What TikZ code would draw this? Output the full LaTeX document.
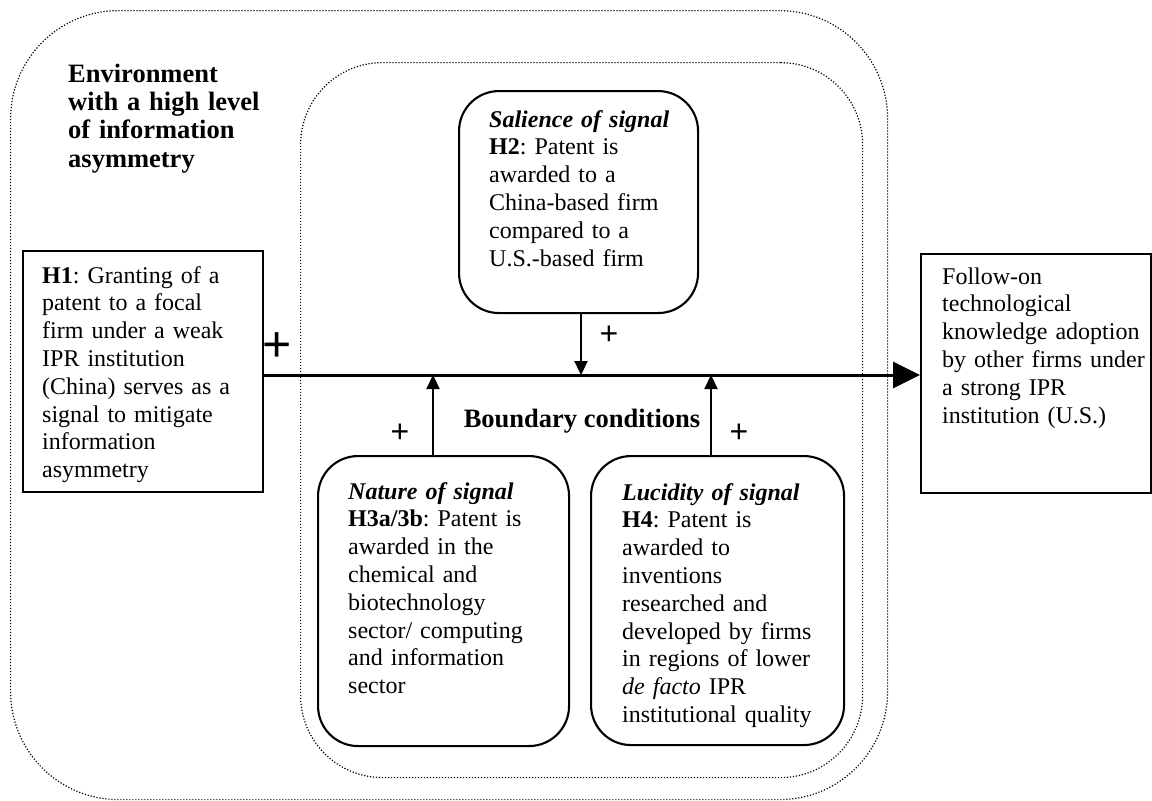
\documentclass[tikz,border=0pt]{standalone}
\usepackage{fontspec}
\setmainfont{Liberation Serif}
\newfontfamily\plusfont{Liberation Sans}
\usetikzlibrary{arrows.meta}
\frenchspacing
\begin{document}
\begin{tikzpicture}[x=1pt,y=-1pt,
  dotbox/.style={draw, line width=1.2pt, dash pattern=on 1.2pt off 1.8pt, rounded corners=#1, inner sep=0pt, anchor=north west},
  sqbox/.style={draw, line width=2.3pt, inner sep=0pt, anchor=north west, fill=white},
  rbox/.style={draw, line width=2.1pt, rounded corners=40pt, inner sep=0pt, anchor=north west, fill=white},
  txt/.style={anchor=base west, inner sep=0pt, align=left, text width=330pt, font=\fontsize{24}{27.8}\selectfont},
  ttl/.style={anchor=base west, inner sep=0pt, align=left, text width=330pt, font=\fontsize{26.5}{28.4}\selectfont\bfseries},
  plus/.style={inner sep=0pt, font=\plusfont\fontsize{32}{32}\selectfont},
  bigplus/.style={inner sep=0pt, font=\plusfont\fontsize{50}{50}\selectfont},
  mainarrow/.style={line width=3pt, -{Triangle[length=27pt,width=26pt]}},
  modarrow/.style={line width=2.3pt, -{Triangle[length=14pt,width=13pt]}},
]
\useasboundingbox (0,0) rectangle (1152,801);
\fill[white] (0,0) rectangle (1152,801);

% containers
\node[dotbox=108pt, minimum width=877pt, minimum height=789pt] (env) at (10,10) {};
\node[dotbox=82pt, minimum width=562pt, minimum height=715pt] (bnd) at (300,62) {};

% boxes
\node[sqbox, minimum width=240pt, minimum height=241pt] (h1) at (22,250) {};
\node[sqbox, minimum width=230pt, minimum height=239pt] (out) at (920,253) {};
\node[rbox, minimum width=239pt, minimum height=222pt] (sal) at (458,90) {};
\node[rbox, minimum width=251pt, minimum height=290pt] (nat) at (317,455) {};
\node[rbox, minimum width=253pt, minimum height=289pt] (luc) at (590,455) {};

% texts
\node[ttl] (envt) at (68,82) {Environment\\with a high level\\of information\\asymmetry};
\node[txt] (h1t) at (42,283) {\textbf{H1}: Granting of a\\patent to a focal\\firm under a weak\\IPR institution\\(China) serves as a\\signal to mitigate\\information\\asymmetry};
\node[txt] (salt) at (489,127) {\textbf{\textit{Salience of signal}}\\\textbf{H2}: Patent is\\awarded to a\\China-based firm\\compared to a\\U.S.-based firm};
\node[txt] (natt) at (348,499) {\textbf{\textit{Nature of signal}}\\\textbf{H3a/3b}: Patent is\\awarded in the\\chemical and\\biotechnology\\sector/ computing\\and information\\sector};
\node[txt] (luct) at (622,500) {\textbf{\textit{Lucidity of signal}}\\\textbf{H4}: Patent is\\awarded to\\inventions\\researched and\\developed by firms\\in regions of lower\\\textit{de facto} IPR\\institutional quality};
\node[txt] (outt) at (942,284) {Follow-on\\technological\\knowledge adoption\\by other firms under\\a strong IPR\\institution (U.S.)};
\node[anchor=base, inner sep=0pt, font=\fontsize{26.5}{28.4}\selectfont\bfseries] (bc) at (582,427) {Boundary conditions};

% connectors
\coordinate (ax) at (0,375);
\coordinate (nx) at (433,0);
\coordinate (lx) at (711,0);
\coordinate (sx) at (581,0);
\draw[mainarrow] (h1.east |- ax) -- (out.west |- ax);
\draw[modarrow] (sx |- sal.south) -- (sx |- ax);
\draw[modarrow] (nx |- nat.north) -- (nx |- ax);
\draw[modarrow] (lx |- luc.north) -- (lx |- ax);

% signs
\node[bigplus] (p0) at (277,347) {+};
\node[plus] (p1) at (609,335) {+};
\node[plus] (p2) at (400,433) {+};
\node[plus] (p3) at (739,433) {+};
\end{tikzpicture}
\end{document}
